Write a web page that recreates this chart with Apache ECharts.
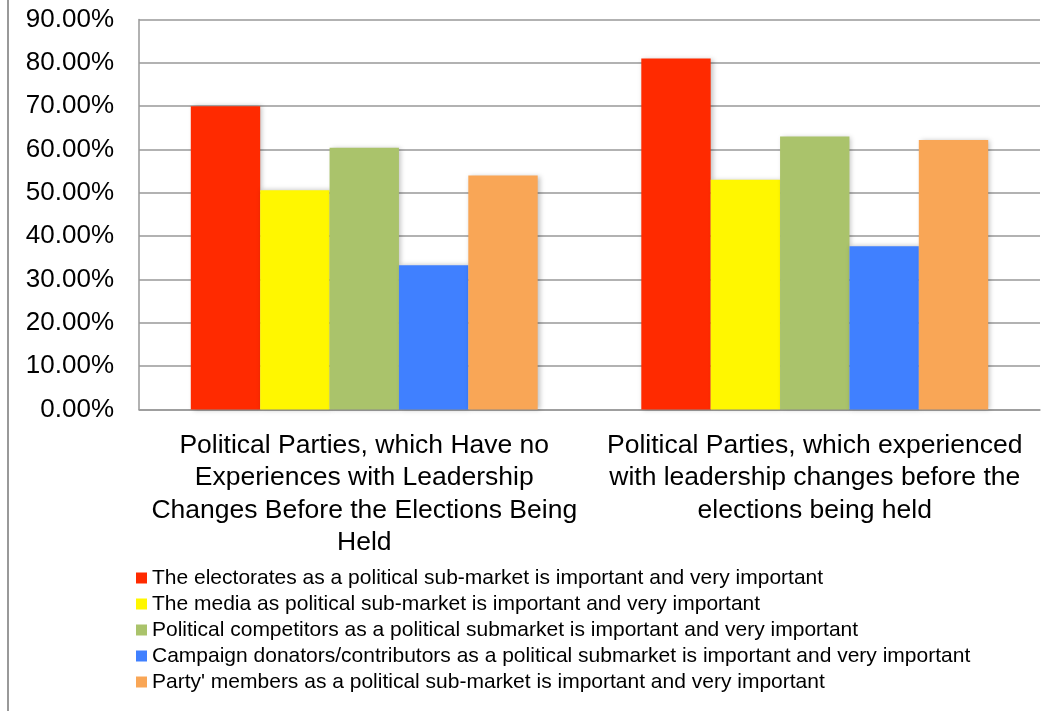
<!DOCTYPE html>
<html>
<head>
<meta charset="utf-8">
<script src="https://cdn.jsdelivr.net/npm/echarts@6/dist/echarts.min.js"></script>
<style>
  html, body { margin: 0; padding: 0; background: #fff; }
  #chart { width: 1057px; height: 711px; }
</style>
</head>
<body>
<div id="chart"></div>
<script>
// Party groups on the x axis
const categories = [
  'Political Parties, which Have no\nExperiences with Leadership\nChanges Before the Elections Being\nHeld',
  'Political Parties, which experienced\nwith leadership changes before the\nelections being held'
];

// Share of respondents rating each sub-market important / very important
const seriesNames = [
  'The electorates as a political sub-market is important and very important',
  'The media as political sub-market is important and very important',
  'Political competitors as a political submarket is important and very important',
  'Campaign donators/contributors as a political submarket is important and very important',
  "Party' members as a political sub-market is important and very important"
];
const electorates = [0.700, 0.810];
const media = [0.506, 0.530];
const competitors = [0.604, 0.630];
const donators = [0.333, 0.377];
const members = [0.540, 0.622];

const seriesColors = ['#FF2A00', '#FFF700', '#AAC36B', '#4080FF', '#F9A656'];
const yTicks = { min: 0, max: 0.9, interval: 0.1 };

const font = '"Liberation Sans", Arial, Helvetica, sans-serif';
const values = [electorates, media, competitors, donators, members];

const chart = echarts.init(document.getElementById('chart'), null, { renderer: 'canvas' });

chart.setOption({
  animation: false,
  backgroundColor: '#ffffff',
  grid: { left: 139, right: 17, top: 19.5, bottom: 301.5, containLabel: false },
  legend: {
    orient: 'vertical',
    left: 136,
    top: 565,
    padding: 0,
    itemWidth: 11,
    itemHeight: 11,
    itemGap: 0,
    itemTextGap: 5,
    icon: 'rect',
    selectedMode: false,
    data: seriesNames,
    textStyle: { fontFamily: font, fontSize: 21, color: '#000', lineHeight: 26 }
  },
  xAxis: {
    type: 'category',
    data: categories,
    axisLine: { show: true, lineStyle: { color: '#999', width: 1.5 } },
    axisTick: { show: false },
    axisLabel: {
      interval: 0,
      margin: 19.5,
      fontFamily: font,
      fontSize: 26.5,
      lineHeight: 32.5,
      color: '#000',
      align: 'center'
    }
  },
  yAxis: {
    type: 'value',
    min: yTicks.min,
    max: yTicks.max,
    interval: yTicks.interval,
    axisLine: { show: true, lineStyle: { color: '#999', width: 1.5 } },
    axisTick: { show: false },
    splitLine: { show: true, lineStyle: { color: '#999', width: 1.5 } },
    axisLabel: {
      margin: 25,
      fontFamily: font,
      fontSize: 26,
      color: '#000',
      formatter: v => (v * 100).toFixed(2) + '%'
    }
  },
  graphic: [{
    type: 'line',
    shape: { x1: 8, y1: 0, x2: 8, y2: 711 },
    style: { stroke: '#999', lineWidth: 2 }
  }],
  series: seriesNames.map((name, i) => ({
    name: name,
    type: 'bar',
    data: values[i],
    barGap: '0%',
    barCategoryGap: '23%',
    itemStyle: {
      color: seriesColors[i],
      shadowBlur: 5,
      shadowColor: 'rgba(0,0,0,0.25)',
      shadowOffsetX: 2,
      shadowOffsetY: 0
    }
  }))
});
</script>
</body>
</html>
